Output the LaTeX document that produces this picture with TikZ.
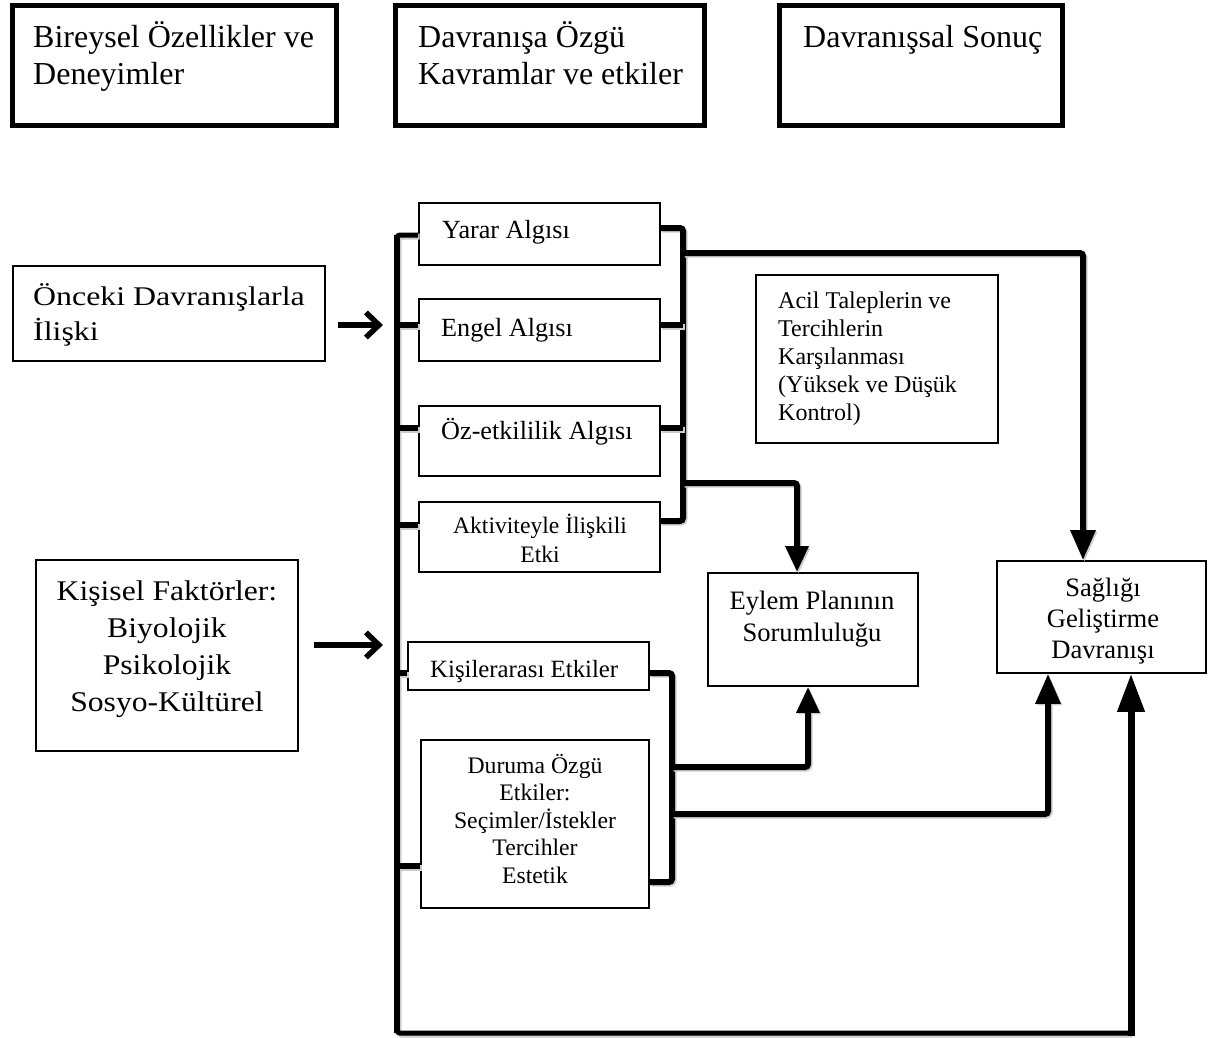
\documentclass[tikz,border=0pt]{standalone}
\usepackage{fontspec}
\setmainfont{Liberation Serif}
\usepackage{graphicx}
\usetikzlibrary{arrows.meta,fit}
\newcommand\fsz[2]{\fontsize{#1}{#2}\selectfont}
\newcommand\mlines[2]{\begin{tabular}[t]{@{}#1@{}}#2\end{tabular}}
\begin{document}
\begin{tikzpicture}[x=1pt,y=-1pt,
  bigbox/.style={draw, line width=5pt, inner sep=0pt},
  thinbox/.style={draw, line width=1.8pt, inner sep=0pt},
  midbox/.style={draw, line width=1.6pt, inner sep=0pt},
  txt/.style={inner sep=0pt, text=black},
  bus/.style={line width=6pt, rounded corners=3pt,
    preaction={draw=black!20, line width=6pt, transform canvas={shift={(1.5,1.5)}}}},
  larrow/.style={line width=5.5pt, -{Straight Barb[length=13pt,width=25pt,line width=5.5pt]},
    preaction={draw=black!20, transform canvas={shift={(1.5,1.5)}}}},
  tipA/.style={-{Triangle[length=26pt,width=22pt]}},
  tipB/.style={-{Triangle[length=30pt,width=24pt]}}
]
\useasboundingbox (0,0) rectangle (1208,1038);

% ---------- top header boxes ----------
\node[bigbox, fit={(12,5.5)(336.5,125.5)}] (b1) {};
\node[txt, font=\fsz{32}{37}, anchor=base west] (t1) at (33,48)
  {\mlines{l}{Bireysel Özellikler ve\\Deneyimler}};
\node[bigbox, fit={(395.5,5.5)(704.5,125.5)}] (b2) {};
\node[txt, font=\fsz{32}{37}, anchor=base west] (t2) at (418,48)
  {\mlines{l}{Davranışa Özgü\\Kavramlar ve etkiler}};
\node[bigbox, fit={(779.5,5.5)(1062.5,125.5)}] (b3) {};
\node[txt, font=\fsz{32}{37}, anchor=base west] (t3) at (803,48) {Davranışsal Sonuç};

% ---------- left input boxes ----------
\node[thinbox, fit={(13,266)(325,361)}] (onc) {};
\node[txt, font=\fsz{27}{35}, anchor=base west] (tonc) at (33,305)
  {\scalebox{1.18}[1]{\mlines{l}{Önceki Davranışlarla\\İlişki}}};
\node[thinbox, fit={(36,560)(298,751)}] (kis) {};
\node[txt, font=\fsz{28.5}{37}, anchor=base] (tkis) at (167,600)
  {\scalebox{1.11}[1]{\mlines{c}{Kişisel Faktörler:\\Biyolojik\\Psikolojik\\Sosyo-Kültürel}}};

% ---------- middle boxes ----------
\node[midbox, fit={(419,203)(660,265)}] (yar) {};
\node[txt, font=\fsz{26.2}{31}, anchor=base west] (tyar) at (442,238) {Yarar Algısı};
\node[midbox, fit={(419,299)(660,361)}] (eng) {};
\node[txt, font=\fsz{26.2}{31}, anchor=base west] (teng) at (441,336) {Engel Algısı};
\node[midbox, fit={(419,406)(660,476)}] (oz) {};
\node[txt, font=\fsz{26.2}{31}, anchor=base west] (toz) at (441,439) {Öz-etkililik Algısı};
\node[midbox, fit={(419,502)(660,572)}] (akt) {};
\node[txt, font=\fsz{23.6}{29}, anchor=base] (takt) at (540,533)
  {\mlines{c}{Aktiviteyle İlişkili\\Etki}};
\node[midbox, fit={(408,642)(649,690)}] (kle) {};
\node[txt, font=\fsz{24.8}{29}, anchor=base west] (tkle) at (430,677) {Kişilerarası Etkiler};
\node[midbox, fit={(421,740)(649,908)}] (dur) {};
\node[txt, font=\fsz{23.7}{27.5}, anchor=base] (tdur) at (535,773)
  {\mlines{c}{Duruma Özgü\\Etkiler:\\Seçimler/İstekler\\Tercihler\\Estetik}};

% ---------- right boxes ----------
\node[midbox, fit={(756,275)(998,443)}] (acil) {};
\node[txt, font=\fsz{24}{28}, anchor=base west] (tacil) at (778,308)
  {\mlines{l}{Acil Taleplerin ve\\Tercihlerin\\Karşılanması\\(Yüksek ve Düşük\\Kontrol)}};
\node[midbox, fit={(708,573)(918,686)}] (eyl) {};
\node[txt, font=\fsz{26.6}{32}, anchor=base] (teyl) at (812,609)
  {\mlines{c}{Eylem Planının\\Sorumluluğu}};
\node[midbox, fit={(997,561)(1206,673)}] (sag) {};
\node[txt, font=\fsz{26.6}{31}, anchor=base] (tsag) at (1103,596)
  {\mlines{c}{Sağlığı\\Geliştirme\\Davranışı}};

% ---------- coordinates ----------
\coordinate (LX) at (397,0);
\coordinate (RX) at (683,0);
\coordinate (DX) at (672,0);
\coordinate (LT) at (397,235);
\coordinate (LB) at (397,1033);
\coordinate (RBc) at (1131,1033);

% left-bus stubs
\coordinate (yL) at ([yshift=-1pt]yar.west);
\coordinate (eL) at ([yshift=5pt]eng.west);
\coordinate (oL) at ([yshift=13pt]oz.west);
\coordinate (aL) at ([yshift=12pt]akt.west);
\coordinate (kL) at ([yshift=-7pt]kle.west);
\coordinate (dL) at ([yshift=-42pt]dur.west);
% right-bus stubs
\coordinate (yR) at ([yshift=6pt]yar.east);
\coordinate (eR) at ([yshift=5pt]eng.east);
\coordinate (oR) at ([yshift=13pt]oz.east);
\coordinate (aR) at ([yshift=16pt]akt.east);
\coordinate (kR) at ([yshift=-7pt]kle.east);
\coordinate (dR) at ([yshift=-58pt]dur.east);

% ---------- left bus and feedback loop ----------
\draw[bus, line width=5pt] (yL) -- (LT) -- (LB) -- (RBc);
\draw[line width=7pt, -{Triangle[length=38pt,width=26pt]},
  preaction={draw=black!20, transform canvas={shift={(1.5,1.5)}}}]
  ([yshift=-2.5pt]RBc) -- (RBc |- sag.south);
\draw[bus] (eL) -- (eL -| LX);
\draw[bus] (oL) -- (oL -| LX);
\draw[bus] (aL) -- (aL -| LX);
\draw[bus] (kL) -- (kL -| LX);
\draw[bus] (dL) -- (dL -| LX);
\draw[line width=6pt] (LT) -- (LB);

% ---------- right bus of perception boxes ----------
\draw[bus] (yR) -- (yR -| RX) -- (aR -| RX) -- (aR);
\draw[bus] (eR) -- (eR -| RX);
\draw[bus] (oR) -- (oR -| RX);
\coordinate (RT) at (683,253);
\coordinate (TT) at (1083,253);
\draw[bus, tipB] (RT) -- (TT) -- (TT |- sag.north);
\coordinate (RM) at (683,483);
\coordinate (RM2) at (797,483);
\draw[bus, tipA] (RM) -- (RM2) -- (RM2 |- eyl.north);

% ---------- bus of interpersonal / situational influences ----------
\draw[bus] (kR) -- (kR -| DX) -- (dR -| DX) -- (dR);
\coordinate (D1) at (672,767);
\coordinate (D1e) at (808,767);
\draw[bus, tipA] (D1) -- (D1e) -- (D1e |- eyl.south);
\coordinate (D2) at (672,814);
\coordinate (D2e) at (1048,814);
\draw[bus, tipB] (D2) -- (D2e) -- (D2e |- sag.south);

% ---------- input arrows ----------
\draw[larrow] ([xshift=12pt,yshift=-11.5pt]onc.east) -- ++(45,0);
\draw[larrow] ([xshift=15pt,yshift=10.5pt]kis.east) -- ++(69,0);
\end{tikzpicture}
\end{document}
